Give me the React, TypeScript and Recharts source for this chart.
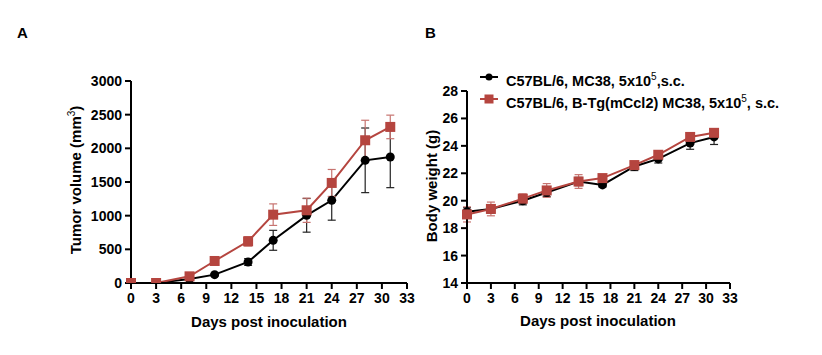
import React from "react";
import { LineChart, Line, XAxis, YAxis, ErrorBar } from "recharts";

const days = [0, 3, 7, 10, 14, 17, 21, 24, 28, 31];
const xTicks = [0, 3, 6, 9, 12, 15, 18, 21, 24, 27, 30, 33];

const tumorWT = [0, 0, 60, 124, 312, 634, 1005, 1228, 1822, 1872];
const tumorWTErr = [0, 0, 20, 15, 50, 148, 250, 295, 480, 456];
const tumorTg = [0, 0, 99, 327, 619, 1015, 1080, 1486, 2120, 2318];
const tumorTgErr = [0, 0, 25, 30, 70, 160, 180, 200, 297, 175];
const tumorTicks = [0, 500, 1000, 1500, 2000, 2500, 3000];

const bwWT = [19.2, 19.4, 20.0, 20.6, 21.4, 21.15, 22.5, 23.05, 24.2, 24.65];
const bwWTErr = [0.3, 0.3, 0.3, 0.3, 0.3, 0.15, 0.3, 0.3, 0.45, 0.55];
const bwTg = [19.0, 19.4, 20.15, 20.75, 21.4, 21.65, 22.6, 23.35, 24.65, 24.95];
const bwTgErr = [0.55, 0.5, 0.35, 0.5, 0.5, 0.2, 0.15, 0.2, 0.15, 0.3];
const bwTicks = [14, 16, 18, 20, 22, 24, 26, 28];

const legendWT = "C57BL/6, MC38, 5x10";
const legendTg = "C57BL/6, B-Tg(mCcl2) MC38, 5x10";

const RED = "#b5453f";
const RED_ERR = "#c77470";
const BLACK = "#000000";

const tumorData = days.map((d, i) => ({
  day: d,
  wt: tumorWT[i],
  wtErr: tumorWTErr[i],
  tg: tumorTg[i],
  tgErr: tumorTgErr[i],
}));
const bwData = days.map((d, i) => ({
  day: d,
  wt: bwWT[i],
  wtErr: bwWTErr[i],
  tg: bwTg[i],
  tgErr: bwTgErr[i],
}));

const FONT = "'Liberation Sans', Arial, sans-serif";
const tickStyle = { fontSize: 14, fontWeight: 700, fill: "#000", fontFamily: FONT };

const CircleDot = (props: any) => {
  const { cx, cy } = props;
  if (cx == null || cy == null) return null;
  return <circle cx={cx} cy={cy} r={4.5} fill={BLACK} />;
};
const SquareDot = (props: any) => {
  const { cx, cy } = props;
  if (cx == null || cy == null) return null;
  return <rect x={cx - 5} y={cy - 5} width={10} height={10} fill={RED} />;
};

function Panel({
  data,
  ticks,
  domain,
  width,
  margin,
  yWidth,
}: {
  data: any[];
  ticks: number[];
  domain: [number, number];
  width: number;
  margin: any;
  yWidth: number;
}) {
  return (
    <LineChart width={width} height={355} data={data} margin={margin}>
      <XAxis
        dataKey="day"
        type="number"
        domain={[0, 33]}
        ticks={xTicks}
        interval={0}
        tick={tickStyle}
        tickSize={6}
        tickMargin={4}
        axisLine={{ stroke: "#000", strokeWidth: 2 }}
        tickLine={{ stroke: "#000", strokeWidth: 2 }}
        height={40}
      />
      <YAxis
        type="number"
        domain={domain}
        ticks={ticks}
        interval={0}
        tick={tickStyle}
        tickSize={6}
        tickMargin={3}
        width={yWidth}
        axisLine={{ stroke: "#000", strokeWidth: 2 }}
        tickLine={{ stroke: "#000", strokeWidth: 2 }}
        allowDataOverflow
      />
      <Line
        dataKey="wt"
        stroke={BLACK}
        strokeWidth={2}
        dot={<CircleDot />}
        activeDot={false}
        isAnimationActive={false}
      >
        <ErrorBar dataKey="wtErr" direction="y" width={4} stroke="#222" strokeWidth={1.2} />
      </Line>
      <Line
        dataKey="tg"
        stroke={RED}
        strokeWidth={2}
        dot={<SquareDot />}
        activeDot={false}
        isAnimationActive={false}
      >
        <ErrorBar dataKey="tgErr" direction="y" width={4} stroke={RED_ERR} strokeWidth={1.2} />
      </Line>
    </LineChart>
  );
}

const labelStyle: React.CSSProperties = {
  position: "absolute",
  fontFamily: FONT,
  fontWeight: 700,
  fontSize: 15,
  color: "#000",
  whiteSpace: "nowrap",
};

export default function App() {
  return (
    <div
      style={{
        position: "absolute",
        left: 0,
        top: 0,
        width: 822,
        height: 355,
        background: "#fff",
        overflow: "hidden",
      }}
    >
      <div style={{ position: "absolute", left: 410, top: 0 }}>
        <Panel
          data={bwData}
          ticks={bwTicks}
          domain={[14, 28]}
          width={412}
          yWidth={57}
          margin={{ top: 91, right: 92, bottom: 32, left: 0 }}
        />
      </div>
      <div style={{ position: "absolute", left: 0, top: 0 }}>
        <Panel
          data={tumorData}
          ticks={tumorTicks}
          domain={[0, 3000]}
          width={425}
          yWidth={131}
          margin={{ top: 81, right: 18, bottom: 32, left: 0 }}
        />
      </div>

      <div style={{ ...labelStyle, left: 17, top: 24 }}>A</div>
      <div style={{ ...labelStyle, left: 425, top: 24 }}>B</div>

      <div
        style={{
          ...labelStyle,
          left: 75,
          top: 180,
          transform: "translate(-50%, -50%) rotate(-90deg)",
        }}
      >
        Tumor volume (mm<sup style={{ fontSize: 10, fontWeight: 400 }}>3</sup>)
      </div>
      <div
        style={{
          ...labelStyle,
          left: 431,
          top: 186,
          transform: "translate(-50%, -50%) rotate(-90deg)",
        }}
      >
        Body weight (g)
      </div>

      <div style={{ ...labelStyle, left: 269, top: 321, transform: "translate(-50%, -50%)" }}>
        Days post inoculation
      </div>
      <div style={{ ...labelStyle, left: 598, top: 320, transform: "translate(-50%, -50%)" }}>
        Days post inoculation
      </div>

      <div style={{ position: "absolute", left: 479, top: 68 }}>
        <svg width={20} height={40} style={{ position: "absolute", left: 0, top: 0 }}>
          <line x1={1} x2={19} y1={9} y2={9} stroke={BLACK} strokeWidth={2} />
          <circle cx={10} cy={9} r={3.5} fill={BLACK} />
          <line x1={1} x2={19} y1={31} y2={31} stroke={RED} strokeWidth={2} />
          <rect x={5.5} y={26.5} width={9} height={9} fill={RED} />
        </svg>
        <div style={{ ...labelStyle, left: 27, top: 0, fontSize: 14.5, lineHeight: "18px" }}>
          {legendWT}
          <sup style={{ fontSize: 10, fontWeight: 400 }}>5</sup>,s.c.
        </div>
        <div style={{ ...labelStyle, left: 27, top: 22, fontSize: 14.5, lineHeight: "18px" }}>
          {legendTg}
          <sup style={{ fontSize: 10, fontWeight: 400 }}>5</sup>, s.c.
        </div>
      </div>
    </div>
  );
}
